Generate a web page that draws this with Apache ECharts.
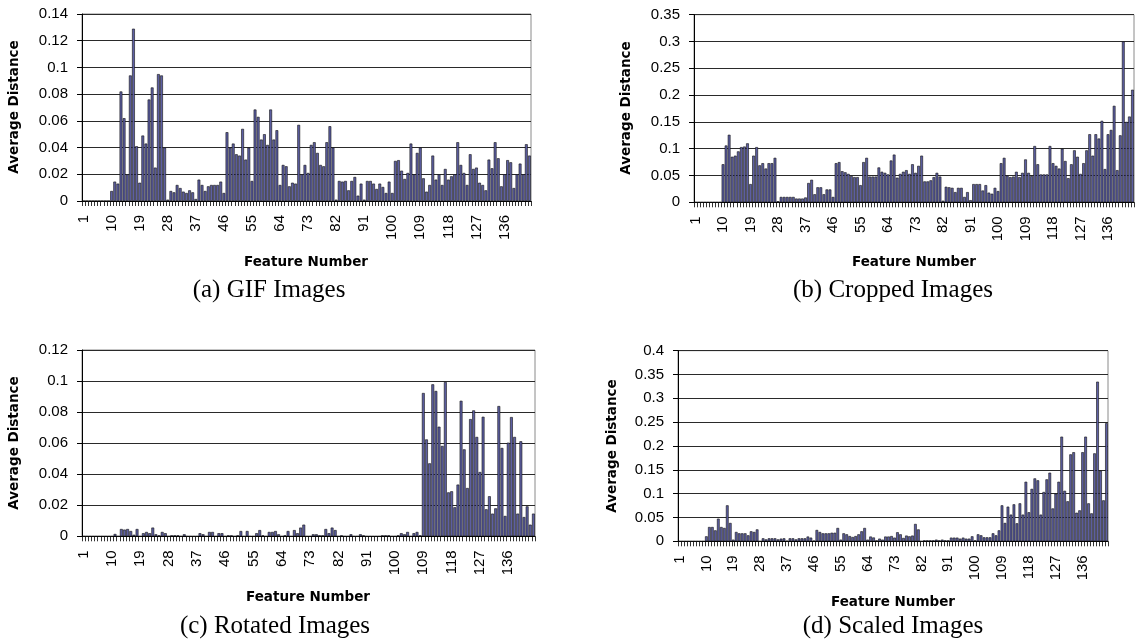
<!DOCTYPE html>
<html>
<head>
<meta charset="utf-8">
<script src="https://cdn.jsdelivr.net/npm/echarts@6/dist/echarts.min.js"></script>
<style>
html,body{margin:0;padding:0;background:#fff;}
#chart{width:1140px;height:642px;}
</style>
</head>
<body>
<div id="chart"></div>
<script>
// Feature numbers 1..144
const features = Array.from({length: 144}, (_, i) => String(i + 1));

// (a) GIF Images
const gifValues = [
0,0,0,0,0,0,0,0,0,
0.0075,0.0145,0.013,0.082,0.062,0.02,0.094,0.129,0.041,0.0137,
0.049,0.043,0.076,0.085,0.025,0.095,0.094,0.040,0.001,0.0075,
0.0065,0.012,0.0097,0.007,0.006,0.008,0.0065,0.0015,0.016,0.012,
0.0075,0.011,0.012,0.012,0.012,0.0145,0.006,0.0515,0.04,0.043,
0.035,0.034,0.054,0.031,0.04,0.015,0.0685,0.063,0.046,0.05,
0.042,0.0685,0.046,0.053,0.012,0.027,0.026,0.011,0.0137,0.013,
0.057,0.02,0.027,0.021,0.042,0.044,0.036,0.027,0.026,0.044,
0.056,0.04,0.001,0.015,0.0145,0.015,0.008,0.015,0.018,0.004,
0.013,0.001,0.015,0.015,0.013,0.009,0.013,0.0105,0.006,0.0145,
0.006,0.03,0.0306,0.0227,0.0165,0.021,0.043,0.02,0.036,0.04,
0.017,0.007,0.012,0.034,0.016,0.02,0.012,0.024,0.016,0.0185,
0.02,0.044,0.027,0.021,0.012,0.035,0.024,0.025,0.0137,0.012,
0.008,0.031,0.0245,0.044,0.032,0.011,0.02,0.0306,0.029,0.0097,
0.02,0.028,0.02,0.0425,0.034
];

// (b) Cropped Images
const croppedValues = [
0,0,0,0,0,0,0,0,0,
0.071,0.106,0.126,0.085,0.087,0.095,0.103,0.104,0.110,0.034,
0.087,0.103,0.069,0.073,0.063,0.073,0.073,0.083,0.002,0.01,
0.01,0.01,0.01,0.01,0.007,0.007,0.007,0.009,0.036,0.042,
0.015,0.028,0.028,0.015,0.024,0.024,0.01,0.073,0.075,0.058,
0.056,0.053,0.049,0.047,0.047,0.032,0.075,0.083,0.048,0.048,
0.048,0.065,0.057,0.055,0.052,0.078,0.089,0.046,0.053,0.057,
0.06,0.053,0.071,0.055,0.068,0.087,0.039,0.039,0.041,0.047,
0.055,0.048,0.003,0.029,0.028,0.027,0.019,0.027,0.027,0.01,
0.019,0.004,0.034,0.034,0.034,0.022,0.032,0.018,0.016,0.027,
0.021,0.073,0.083,0.05,0.047,0.048,0.057,0.047,0.055,0.08,
0.055,0.049,0.105,0.071,0.052,0.052,0.052,0.105,0.073,0.068,
0.063,0.1,0.077,0.045,0.071,0.097,0.085,0.053,0.073,0.097,
0.127,0.087,0.127,0.119,0.152,0.062,0.127,0.135,0.18,0.06,
0.125,0.3,0.15,0.16,0.21
];

// (c) Rotated Images
const rotatedValues = [
0,0,0,0,0,0,0,0,0,0,
0.0015,0,0.0047,0.0043,0.0047,0.0034,0.001,0.0047,0,0.002,
0.0028,0.002,0.0056,0.0013,0.0006,0.0028,0.002,0,0.0006,0.0006,
0.0006,0,0.0013,0,0,0,0,0.002,0.0013,0,
0.0028,0.0028,0,0.002,0.002,0,0.0006,0.0006,0,0.0006,
0.0034,0,0.0034,0,0,0.002,0.004,0.0006,0,0.0028,
0.0028,0.0034,0.0013,0,0.0006,0.0034,0,0.004,0.002,0.0056,
0.0075,0,0,0.0013,0.0013,0.0006,0.0006,0.0047,0.002,0.0056,
0.004,0,0.0006,0,0,0.0013,0,0,0.0013,0.0006,
0,0,0,0,0,0.0006,0.0006,0.0006,0,0,
0.0006,0.002,0.0013,0.0028,0,0.002,0.0028,0.0006,0.0923,0.0624,
0.047,0.0979,0.0936,0.0706,0.0582,0.0994,0.0283,0.029,0.0187,0.0333,
0.0873,0.056,0.0311,0.0755,0.0811,0.064,0.0414,0.077,0.0174,0.0258,
0.0146,0.018,0.0839,0.0569,0.0131,0.0603,0.0768,0.064,0.0146,0.0612,
0.0124,0.0193,0.0075,0.0146
];

// (d) Scaled Images
const scaledValues = [
0,0,0,0,0,0,0,0,0,
0.0105,0.030,0.030,0.023,0.0475,0.030,0.028,0.0755,0.0385,0.0035,
0.0196,0.0168,0.0168,0.0168,0.0126,0.021,0.0196,0.025,0,0.0063,
0.004,0.0063,0.0063,0.0063,0.004,0.0056,0.0063,0.001,0.0063,0.0063,
0.004,0.0063,0.0063,0.0063,0.01,0.0077,0.0014,0.0238,0.0196,0.0168,
0.0168,0.0168,0.018,0.018,0.028,0.0035,0.0168,0.0147,0.011,0.009,
0.011,0.0147,0.021,0.028,0.0035,0.01,0.008,0.002,0.0056,0.0035,
0.01,0.01,0.011,0.0077,0.019,0.0147,0.007,0.012,0.0105,0.012,
0.0364,0.025,0,0.002,0.002,0.002,0.002,0.0035,0.002,0.0035,
0.002,0.002,0.0077,0.0077,0.0077,0.0056,0.0077,0.0056,0.0056,0.0105,
0.002,0.0147,0.0126,0.0084,0.0084,0.0084,0.0168,0.0126,0.023,0.0755,
0.0385,0.0727,0.056,0.0776,0.0378,0.0797,0.056,0.125,0.061,0.11,
0.132,0.128,0.056,0.1035,0.13,0.144,0.069,0.1,0.125,0.2196,
0.106,0.084,0.1825,0.187,0.06,0.065,0.187,0.2196,0.0797,0.0587,
0.1846,0.335,0.148,0.086,0.248
];

const captions = ['(a) GIF Images', '(b) Cropped Images', '(c) Rotated Images', '(d) Scaled Images'];
const xTitle = 'Feature Number';
const yTitle = 'Average Distance';
const yMax = [0.14, 0.35, 0.12, 0.4];
const yStep = [0.02, 0.05, 0.02, 0.05];

const panels = [
  {grid: {left: 82, top: 14, width: 449, height: 187}, data: gifValues},
  {grid: {left: 694, top: 14.7, width: 440, height: 187.6}, data: croppedValues},
  {grid: {left: 82, top: 350, width: 453, height: 186.3}, data: rotatedValues},
  {grid: {left: 678, top: 350.7, width: 430, height: 190.6}, data: scaledValues}
];

const tickFont = 'Liberation Sans, Arial, sans-serif';
const grids = [], xAxes = [], yAxes = [], series = [];
panels.forEach((p, i) => {
  grids.push(Object.assign({show: true, borderColor: '#8a8a8a', borderWidth: 1, backgroundColor: 'transparent'}, p.grid));
  xAxes.push({
    type: 'category', gridIndex: i, data: features, boundaryGap: true,
    axisLine: {show: true, lineStyle: {color: '#000', width: 1}},
    axisTick: {show: true, interval: 0, length: 5, lineStyle: {color: '#000', width: 0.8}},
    axisLabel: {interval: 8, rotate: 90, margin: 14, fontSize: 15, color: '#000', fontFamily: tickFont},
    splitLine: {show: false}
  });
  yAxes.push({
    type: 'value', gridIndex: i, min: 0, max: yMax[i], interval: yStep[i],
    axisLine: {show: true, lineStyle: {color: '#000', width: 1}},
    axisTick: {show: true, length: 5, lineStyle: {color: '#000'}},
    axisLabel: {margin: 14, fontSize: 15, color: '#000', fontFamily: tickFont},
    splitLine: {show: true, lineStyle: {color: '#2a2a2a', width: 1}}
  });
  series.push({
    type: 'bar', xAxisIndex: i, yAxisIndex: i, data: p.data,
    barCategoryGap: '10%', silent: true, animation: false,
    itemStyle: {color: '#5d5fa3', borderColor: '#111', borderWidth: 0.6}
  });
});

const titleFont = 'bold 13.5px "DejaVu Sans", sans-serif';
const capFont = '25px "Liberation Serif", "Times New Roman", serif';
function txt(x, y, text, font, rot) {
  return {type: 'text', x: x, y: y, rotation: rot || 0, silent: true,
    style: {text: text, font: font, fill: '#000', textAlign: 'center', textVerticalAlign: 'middle', align: 'center', verticalAlign: 'middle'}};
}
const graphics = [
  txt(14, 107, yTitle, titleFont, Math.PI / 2),
  txt(626, 108, yTitle, titleFont, Math.PI / 2),
  txt(14, 443, yTitle, titleFont, Math.PI / 2),
  txt(612, 446, yTitle, titleFont, Math.PI / 2),
  txt(306, 262, xTitle, titleFont),
  txt(914, 262, xTitle, titleFont),
  txt(308, 597, xTitle, titleFont),
  txt(893, 602, xTitle, titleFont),
  txt(269, 290, captions[0], capFont),
  txt(893, 290, captions[1], capFont),
  txt(275, 626, captions[2], capFont),
  txt(893, 626, captions[3], capFont)
];

const chart = echarts.init(document.getElementById('chart'), null, {renderer: 'canvas'});
chart.setOption({
  animation: false,
  backgroundColor: '#fff',
  grid: grids, xAxis: xAxes, yAxis: yAxes, series: series,
  graphic: graphics
});
</script>
</body>
</html>
